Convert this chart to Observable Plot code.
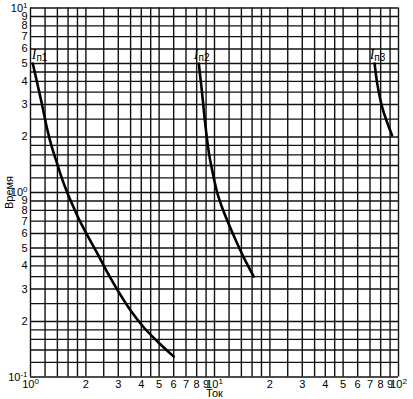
<!DOCTYPE html>
<html>
<head>
<meta charset="utf-8">
<script src="https://cdn.jsdelivr.net/npm/d3@7"></script>
<script src="https://cdn.jsdelivr.net/npm/@observablehq/plot@0.6"></script>
<style>
  html, body { margin: 0; padding: 0; background: #fff; }
  svg { display: block; }
</style>
</head>
<body>
<div id="chart"></div>
<script>
// Grid mantissas per decade and decades
const gridMantissas = [1, 1.2, 1.4, 1.6, 1.8, 2, 2.5, 3, 3.5, 4, 4.5, 5, 6, 7, 8, 9];
const xDecades = [1, 10];
const yDecades = [0.1, 1];
const xEnd = 100;
const yEnd = 10;

// Tick labels
const xTickValues = [1, 2, 3, 4, 5, 6, 7, 8, 9, 10, 20, 30, 40, 50, 60, 70, 80, 90, 100];
const xTickLabels = ["10^0", "2", "3", "4", "5", "6", "7", "8", "9", "10^1", "2", "3", "4", "5", "6", "7", "8", "9", "10^2"];
const yTickValues = [0.1, 0.2, 0.3, 0.4, 0.5, 0.6, 0.7, 0.8, 0.9, 1, 2, 3, 4, 5, 6, 7, 8, 9, 10];
const yTickLabels = ["10^-1", "2", "3", "4", "5", "6", "7", "8", "9", "10^0", "2", "3", "4", "5", "6", "7", "8", "9", "10^1"];

// Curves (current vs time)
const curve1X = [1.029, 1.092, 1.155, 1.237, 1.309, 1.397, 1.483, 1.583, 1.702, 1.83, 2.074, 2.342, 2.62, 2.96, 3.5, 4.13, 4.96, 6.01];
const curve1Y = [5.0, 3.85, 3.0, 2.17, 1.75, 1.43, 1.19, 1.0, 0.845, 0.72, 0.567, 0.455, 0.368, 0.298, 0.229, 0.1855, 0.1538, 0.129];
const curve2X = [8.22, 8.39, 8.57, 8.83, 9.13, 9.39, 9.72, 10.34, 11.05, 11.92, 12.85, 14.43, 16.35];
const curve2Y = [5.0, 4.15, 3.43, 2.55, 1.91, 1.57, 1.316, 1.0, 0.819, 0.679, 0.57, 0.444, 0.3505];
const curve3X = [74.2, 76.7, 81.5, 87.3, 92.3];
const curve3Y = [5.0, 3.88, 2.9, 2.36, 2.04];

const curveNames = ["I|п1", "I|п2", "I|п3"];
const xLabel = "Ток";
const yLabel = "Время";

const xGrid = xDecades.flatMap(d => gridMantissas.map(m => +(d * m).toPrecision(6))).concat([xEnd]);
const yGrid = yDecades.flatMap(d => gridMantissas.map(m => +(d * m).toPrecision(6))).concat([yEnd]);

const curves = [
  {name: curveNames[0], xs: curve1X, ys: curve1Y, dx: -1},
  {name: curveNames[1], xs: curve2X, ys: curve2Y, dx: -5},
  {name: curveNames[2], xs: curve3X, ys: curve3Y, dx: -5}
];
const lineData = curves.flatMap(c => c.xs.map((x, i) => ({name: c.name, x, y: c.ys[i]})));

const labelMarks = curves.map(c => Plot.text([{name: c.name, x: c.xs[0], y: c.ys[0]}], {
  x: "x", y: "y", text: "name", dx: c.dx, dy: -5, textAnchor: "start", lineAnchor: "bottom", fontSize: 10, fill: "#000"
}));

const chart = Plot.plot({
  width: 413,
  height: 399,
  marginLeft: 30,
  marginRight: 15,
  marginTop: 7.5,
  marginBottom: 22.5,
  style: {fontFamily: "'Liberation Sans', Arial, sans-serif", fontSize: "11px", color: "#000", background: "#fff"},
  x: {type: "log", domain: [1, 100], axis: null},
  y: {type: "log", domain: [0.1, 10], axis: null},
  marks: [
    Plot.ruleX(xGrid, {stroke: "#111", strokeWidth: 1.4}),
    Plot.ruleY(yGrid, {stroke: "#111", strokeWidth: 1.4}),
    Plot.line(lineData, {x: "x", y: "y", z: "name", curve: "catmull-rom", stroke: "#000", strokeWidth: 2.6}),
    Plot.text(xTickValues, {x: d => d, frameAnchor: "bottom", lineAnchor: "top", dy: 3, text: (d, i) => xTickLabels[i], fontSize: 11, fill: "#000"}),
    Plot.text(yTickValues, {y: d => d, frameAnchor: "left", textAnchor: "end", dx: -3, text: (d, i) => yTickLabels[i], fontSize: 11, fill: "#000"}),
    Plot.text([xLabel], {frameAnchor: "bottom", textAnchor: "middle", lineAnchor: "bottom", dy: 20, text: d => d, fontSize: 11, fill: "#000"}),
    Plot.text([yLabel], {frameAnchor: "left", textAnchor: "middle", lineAnchor: "middle", dx: -21, rotate: -90, text: d => d, fontSize: 11, fill: "#000"}),
    ...labelMarks
  ]
});

// post-process: superscripts for tick labels and italic/subscript curve labels
const SVGNS = "http://www.w3.org/2000/svg";
chart.querySelectorAll("text").forEach(t => {
  const s = t.textContent;
  const m = /^10\^(-?\d)$/.exec(s);
  if (m) {
    t.textContent = "10";
    const sup = document.createElementNS(SVGNS, "tspan");
    sup.setAttribute("dy", "-0.45em");
    sup.setAttribute("font-size", "8");
    sup.textContent = m[1];
    t.appendChild(sup);
  } else if (s.includes("|")) {
    const [a, b] = s.split("|");
    t.textContent = "";
    const i = document.createElementNS(SVGNS, "tspan");
    i.setAttribute("font-style", "italic");
    i.setAttribute("font-family", "'Liberation Serif', 'Times New Roman', serif");
    i.setAttribute("font-size", "14");
    i.textContent = a;
    const sub = document.createElementNS(SVGNS, "tspan");
    sub.setAttribute("dy", "2");
    sub.setAttribute("font-size", "10");
    sub.textContent = b;
    t.appendChild(i);
    t.appendChild(sub);
  }
});
document.getElementById("chart").appendChild(chart);
</script>
</body>
</html>
